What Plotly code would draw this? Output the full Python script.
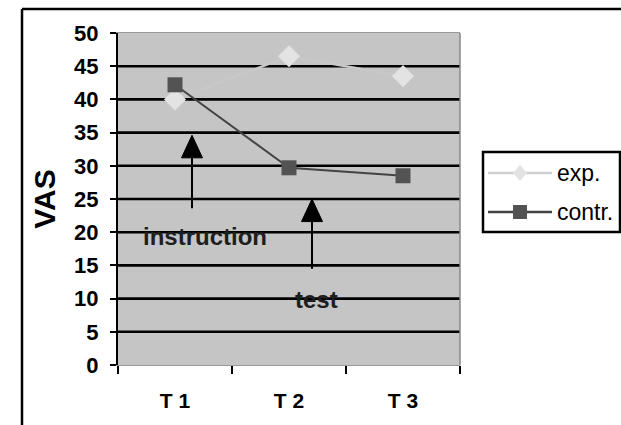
import plotly.graph_objects as go

categories = ["T 1", "T 2", "T 3"]
exp_values = [40, 46.5, 43.5]
contr_values = [42.2, 29.7, 28.5]
y_ticks = [0, 5, 10, 15, 20, 25, 30, 35, 40, 45, 50]
series_names = ["exp.", "contr."]

FONT = "Arial, Liberation Sans, sans-serif"
BG = "#c5c5c5"
EXP_LINE = "#c8c8c8"
EXP_LEG_LINE = "#cfcfcf"
EXP_MARK = "#e3e3e3"
CON_LINE = "#444444"
CON_MARK = "#535353"

fig = go.Figure()
fig.add_trace(go.Scatter(
    x=categories, y=exp_values, name=series_names[0], mode="lines+markers",
    line=dict(color=EXP_LINE, width=2.5),
    marker=dict(symbol="diamond", size=17, color=EXP_MARK),
))
fig.add_trace(go.Scatter(
    x=categories, y=contr_values, name=series_names[1], mode="lines+markers",
    line=dict(color=CON_LINE, width=2),
    marker=dict(symbol="square", size=15, color=CON_MARK),
))

W, H = 621, 425
L, R, T, B = 118, 460, 33, 365
def px_x(px):
    return (px - L) / (R - L)
def px_y(py):
    return (B - py) / (B - T)
def dx(n):
    return n / (R - L)
def dy(n):
    return n / (B - T)

shapes = []
# horizontal gridlines (not at top edge)
for v in y_ticks[1:-1]:
    shapes.append(dict(type="line", xref="paper", yref="y", x0=0, x1=1, y0=v, y1=v,
                       line=dict(color="black", width=2.6), layer="below"))
# right edge of plot area
shapes.append(dict(type="line", xref="paper", yref="paper", x0=1, x1=1, y0=0, y1=1,
                   line=dict(color="#888888", width=1.5)))
# outer frame (partial)
shapes.append(dict(type="line", xref="paper", yref="paper", x0=px_x(22), x1=px_x(640), y0=px_y(9), y1=px_y(9),
                   line=dict(color="black", width=2.5)))
shapes.append(dict(type="line", xref="paper", yref="paper", x0=px_x(22), x1=px_x(22), y0=px_y(9), y1=px_y(440),
                   line=dict(color="black", width=2.5)))

# arrows
def arrow(xp, tail, base, tip):
    hw = dx(10.5)
    shapes.append(dict(type="line", xref="paper", yref="y", x0=xp, x1=xp, y0=tail, y1=base,
                       line=dict(color="black", width=2)))
    shapes.append(dict(type="path", xref="paper", yref="y",
                       path=f"M {xp-hw} {base} L {xp+hw} {base} L {xp} {tip} Z",
                       fillcolor="black", line=dict(color="black", width=1)))
arrow(px_x(192), 23.6, 31.2, 34.6)
arrow(px_x(312), 14.5, 21.6, 25.0)

# manual legend
lx0, lx1, ly0, ly1 = 483, 620, 152, 232
shapes.append(dict(type="rect", xref="paper", yref="paper",
                   x0=px_x(lx0), x1=px_x(lx1), y0=px_y(ly1), y1=px_y(ly0),
                   line=dict(color="black", width=2.5), fillcolor="white"))
leg_rows = [(173, EXP_LEG_LINE, EXP_MARK, "diamond"), (212, CON_LINE, CON_MARK, "square")]
annotations = []
for name, (yy, lc, mc, sym) in zip(series_names, leg_rows):
    shapes.append(dict(type="line", xref="paper", yref="paper",
                       x0=px_x(488), x1=px_x(552), y0=px_y(yy), y1=px_y(yy),
                       line=dict(color=lc, width=2.5)))
    cx, cy = px_x(520), px_y(yy)
    if sym == "diamond":
        path = (f"M {cx} {cy+dy(8)} L {cx+dx(7)} {cy} L {cx} {cy-dy(8)} L {cx-dx(7)} {cy} Z")
    else:
        path = (f"M {cx-dx(7)} {cy-dy(7)} L {cx+dx(7)} {cy-dy(7)} L {cx+dx(7)} {cy+dy(7)} "
                f"L {cx-dx(7)} {cy+dy(7)} Z")
    shapes.append(dict(type="path", xref="paper", yref="paper", path=path,
                       fillcolor=mc, line=dict(color=mc, width=0)))
    annotations.append(dict(text=name, xref="paper", yref="paper", x=px_x(555), y=px_y(yy),
                            xanchor="left", yanchor="middle", showarrow=False,
                            font=dict(family=FONT, size=23, color="black")))

annotations += [
    dict(text="<b>instruction</b>", xref="paper", yref="y", x=px_x(205), y=19.3,
         xanchor="center", yanchor="middle", showarrow=False,
         font=dict(family=FONT, size=24, color="#1e1e1e")),
    dict(text="<b>test</b>", xref="paper", yref="y", x=px_x(316), y=9.8,
         xanchor="center", yanchor="middle", showarrow=False,
         font=dict(family=FONT, size=24, color="#1e1e1e")),
]

fig.update_layout(
    width=W, height=H,
    margin=dict(l=L, r=W - R, t=T, b=H - B, pad=0),
    paper_bgcolor="white", plot_bgcolor=BG,
    font=dict(family=FONT, color="black"),
    showlegend=False,
    shapes=shapes, annotations=annotations,
    xaxis=dict(type="category", range=[-0.5, 2.5], showgrid=False,
               ticks="outside", tickson="boundaries", ticklen=8, tickwidth=2, tickcolor="black",
               showline=True, linecolor="#999999", linewidth=1, mirror=True,
               ticklabelstandoff=17,
               tickfont=dict(family=FONT, size=21, color="black", weight="bold"),
               zeroline=False),
    yaxis=dict(range=[0, 50], tickvals=y_ticks, showgrid=False,
               ticks="outside", ticklen=6, tickwidth=2, tickcolor="black",
               showline=True, linecolor="black", linewidth=2,
               ticklabelstandoff=7,
               tickfont=dict(family=FONT, size=22, color="black", weight="bold"),
               title=dict(text="<b>VAS</b>", font=dict(family=FONT, size=30, color="black"), standoff=10),
               zeroline=True, zerolinecolor="black", zerolinewidth=3),
)

fig.write_html("out.html", config={"displayModeBar": False},
               post_script="document.body.style.margin='0';document.body.style.overflow='hidden';")
